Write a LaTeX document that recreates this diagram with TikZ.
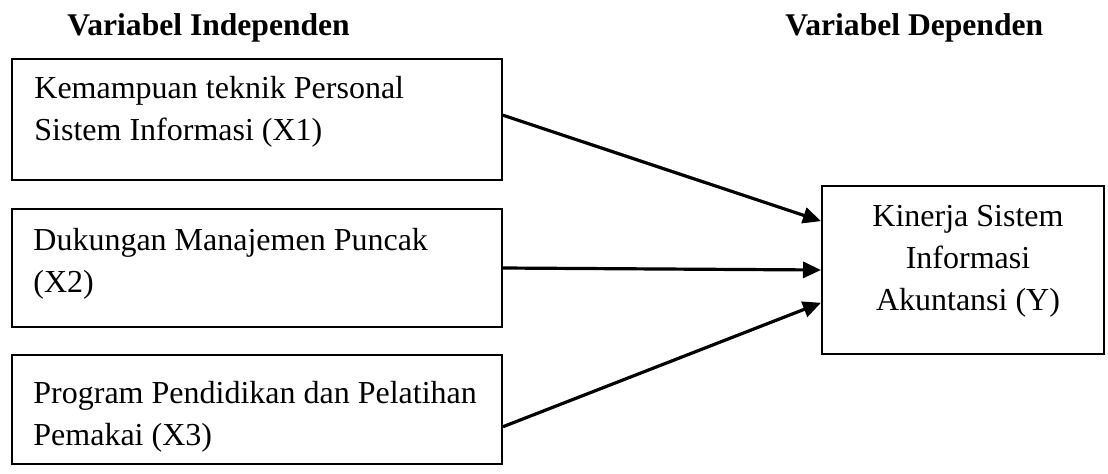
\documentclass[tikz,border=0pt]{standalone}
\usepackage{fontspec}
\setmainfont{Liberation Serif}
\usetikzlibrary{arrows.meta}
\begin{document}
\begin{tikzpicture}[x=0.5pt,y=-0.5pt,
  boxnode/.style={draw,line width=1pt,rectangle,inner sep=0pt},
  txt/.style={inner sep=0pt,align=left,font=\fontsize{16}{20.8}\selectfont},
  ctxt/.style={inner sep=0pt,align=center,font=\fontsize{16}{20.8}\selectfont},
  head/.style={inner sep=0pt,font=\fontsize{15.8}{20.8}\selectfont\bfseries},
  conn/.style={line width=1.6pt,-{Triangle[length=9pt,width=8pt]}}]
\useasboundingbox[fill=white] (0,0) rectangle (1108,473);
\node[head,anchor=base west] (h1) at (67,35) {Variabel Independen};
\node[head,anchor=base west] (h2) at (785,35) {Variabel Dependen};
\node[boxnode,minimum width=245pt,minimum height=60.5pt] (b1) at (257,119.5) {};
\node[boxnode,minimum width=245pt,minimum height=59pt] (b2) at (257,268) {};
\node[boxnode,minimum width=245pt,minimum height=54.5pt] (b3) at (257,409.5) {};
\node[boxnode,minimum width=141pt,minimum height=84pt] (y) at (963,270) {};
\node[txt,anchor=base west] (t1) at (34,140) {Kemampuan teknik Personal\\Sistem Informasi (X1)};
\node[txt,anchor=base west] (t2) at (33,292) {Dukungan Manajemen Puncak\\(X2)};
\node[txt,anchor=base west] (t3) at (33,445) {Program Pendidikan dan Pelatihan\\Pemakai (X3)};
\node[ctxt,anchor=base] (ty) at (968,310) {Kinerja Sistem\\Informasi\\Akuntansi (Y)};
\draw[conn] (b1.1) -- (y.161.6);
\draw[conn] (b2.east) -- (y.west);
\draw[conn] (b3.-4.3) -- (y.193.2);
\end{tikzpicture}
\end{document}
